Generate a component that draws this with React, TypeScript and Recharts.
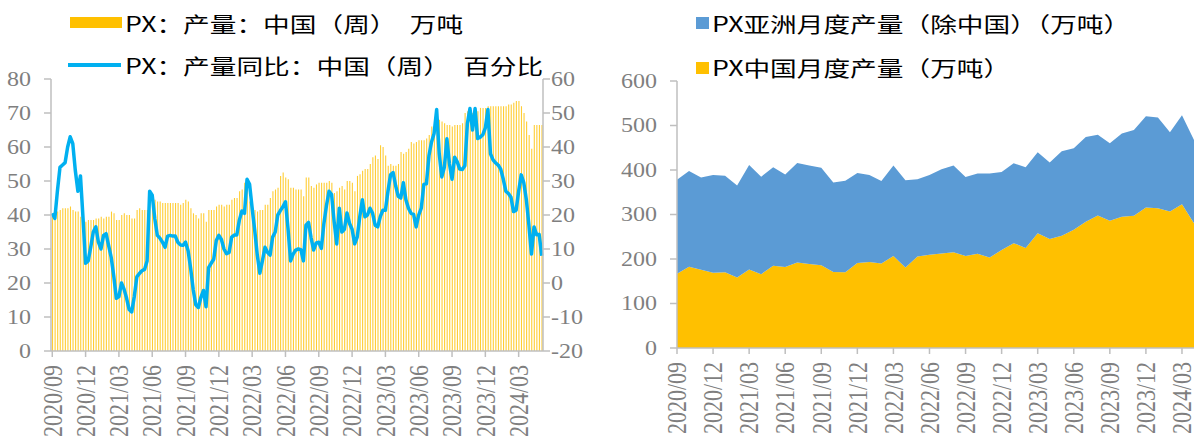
import { ComposedChart, Bar, Line, XAxis, YAxis, AreaChart, Area } from "recharts";

// weekly chart (left)
const WEEK_TICKS = [
  "2020/09", "2020/12", "2021/03", "2021/06", "2021/09", "2021/12", "2022/03", "2022/06",
  "2022/09", "2022/12", "2023/03", "2023/06", "2023/09", "2023/12", "2024/03",
];

// PX：产量：中国（周） 万吨
const PX_OUTPUT_CN = [
  39.5, 40, 41, 41.5, 42, 42, 42, 42.5, 41.5, 41,
  41, 39.5, 39, 38, 38.5, 38.5, 38.5, 39, 39, 39.5,
  39, 39.5, 39.5, 41, 40.5, 38.5, 38.5, 40, 40.5, 40,
  40, 39, 39, 41.5, 42, 41.5, 41.5, 41.5, 45, 45.5,
  44.5, 44, 44, 43.5, 43.5, 43.5, 43.5, 43.5, 43.5, 43.5,
  43, 43.5, 44.5, 44, 42, 40.5, 40, 39, 40.5, 40.5,
  38, 41.5, 41.5, 41.5, 42.5, 43, 43, 42.5, 43, 43,
  44.5, 45, 45, 47, 47.5, 49.5, 50, 44, 43, 41.5,
  41, 41.5, 41.5, 43, 43, 45, 47, 47.5, 48, 51.5,
  52.5, 51, 50.5, 48, 48, 47.5, 47.5, 47.5, 45.5, 51,
  51, 48.5, 48, 49, 49.5, 49.5, 49.5, 49.5, 50, 49.5,
  46.5, 47, 48, 48.5, 47.5, 50, 50, 49.5, 47, 51.5,
  52, 53, 53.5, 53.5, 55, 57, 57.5, 56.5, 60.5, 60,
  57.5, 54.5, 55, 54.5, 54.5, 55, 58.5, 58, 58.5, 59.5,
  61.5, 61, 61.5, 62, 62, 62, 62.5, 63.5, 66, 66,
  67.5, 68, 67.5, 67, 66.5, 66.5, 66, 66.5, 66.5, 66.5,
  67, 70, 70.5, 70.5, 70, 70.5, 70.5, 71.5, 71.5, 71.5,
  72, 72, 72, 72, 72, 72, 72, 72, 72.5, 72.5,
  73, 73.5, 73.5, 72, 70, 67.5, 63.5, 59.5, 66.5, 66.5,
  66.5, 66.5,
];

// PX：产量同比：中国（周） 百分比
const PX_YOY_CN = [
  20.5, 19, 27, 34, 34.7, 35.4, 40, 43, 41, 33,
  27, 31.5, 19, 5.8, 6.5, 10.5, 15, 16.5, 12, 10,
  14, 14.5, 11, 7.5, 2, -4.5, -4, 0, -1.8, -4.5,
  -7.8, -8.5, -4, 1.8, 2.8, 3.6, 4, 6.5, 27, 25.8,
  19, 14, 13.2, 12, 10.5, 13.8, 14, 13.8, 13.8, 12,
  11.2, 11.1, 12, 9.5, 4.3, -2, -6.4, -7.2, -4.2, -2.2,
  -7, 4.5, 5.8, 7, 12.5, 14, 12.8, 10, 8.6, 9,
  13.5, 14.1, 14.1, 18.5, 21.2, 20.5, 30.5, 29, 22, 15.5,
  8.2, 2.9, 6.5, 10.5, 9, 8.2, 13.5, 15, 20, 21.3,
  22.4, 23.9, 16, 6.5, 8.5, 9.7, 10, 9.8, 6.5, 17,
  17.8, 13.3, 9.7, 11.8, 12, 10.2, 17.5, 22.8, 27, 26,
  18, 11.5, 22, 15, 15.8, 20.6, 17.5, 15.8, 11.5, 13.5,
  19.5, 24.5, 19.5, 20, 22, 20.5, 17, 16.5, 19.5, 21.4,
  21.4, 27, 31.8, 32.5, 28.6, 25.5, 25, 29.5, 24.5, 22,
  20.5, 20.2, 16.5, 20, 22, 29, 29.2, 37.5, 41.5, 44,
  51, 38, 31.2, 34, 42.4, 35, 30.5, 37, 35.7, 33.5,
  33.4, 34.5, 47, 51.3, 45, 51.3, 42.5, 42.9, 43.6, 45.6,
  51, 38, 36.2, 35.3, 34.7, 33.5, 30.5, 27, 26.3, 25.2,
  21, 21.4, 27, 31.8, 29.5, 24.5, 17, 8.5, 16.5, 14.2,
  14.3, 8,
];

// monthly chart (right)
const MONTHS = [
  "2020/09", "2020/10", "2020/11", "2020/12", "2021/01", "2021/02", "2021/03", "2021/04",
  "2021/05", "2021/06", "2021/07", "2021/08", "2021/09", "2021/10", "2021/11", "2021/12",
  "2022/01", "2022/02", "2022/03", "2022/04", "2022/05", "2022/06", "2022/07", "2022/08",
  "2022/09", "2022/10", "2022/11", "2022/12", "2023/01", "2023/02", "2023/03", "2023/04",
  "2023/05", "2023/06", "2023/07", "2023/08", "2023/09", "2023/10", "2023/11", "2023/12",
  "2024/01", "2024/02", "2024/03", "2024/04",
];

// PX中国月度产量（万吨）
const PX_CHINA_MONTHLY = [
  167, 182.5, 176, 169, 170.5, 158.6, 176.5, 166, 185, 182, 192,
  188.5, 186, 171, 170, 191, 193, 190, 207, 181, 205.7, 209.4,
  212.4, 215.4, 207, 211.7, 203.4, 220, 235.6, 225, 258, 245, 252,
  265.5, 283.5, 297.7, 285.7, 294.7, 297, 315.6, 314, 306.7, 323, 280.5,
];

// PX亚洲月度产量（除中国）（万吨）
const PX_ASIA_EX_CHINA = [
  211, 215.5, 207, 220, 216.5, 206.4, 234.5, 219, 221, 208, 224,
  221.5, 219, 201, 206, 202, 196, 185.5, 203, 196, 173.3, 179.6,
  189.2, 194.6, 177, 180.3, 188.6, 175.6, 179.4, 181, 182, 172, 190,
  183.5, 190.5, 181.3, 174.3, 187.3, 193, 205, 204, 178, 200, 187,
];

const weeklyData = PX_OUTPUT_CN.map((v, i) => ({ week: i, output: v, yoy: PX_YOY_CN[i] }));
const monthlyData = MONTHS.map((m, i) => ({
  month: m,
  china: PX_CHINA_MONTHLY[i],
  asia: PX_ASIA_EX_CHINA[i],
}));

const AXIS = "#bfbfbf";
const TICK_COLOR = "#7f7f7f";
const SERIF = "'Liberation Serif', 'Times New Roman', serif";
const CJK = "'Noto Sans CJK SC', 'Noto Sans', sans-serif";

function YTick(props: any) {
  const { x, y, payload, textAnchor } = props;
  return (
    <text
      transform={`translate(${x},${y}) scale(1.2,1)`}
      textAnchor={textAnchor}
      dominantBaseline="central"
      fontSize={20}
      fontFamily={SERIF}
      fill={TICK_COLOR}
    >
      {payload.value}
    </text>
  );
}

function DateTick(props: any) {
  const { x, y, label } = props;
  return (
    <text
      transform={`translate(${x},${y}) rotate(-90) scale(1,1.2)`}
      textAnchor="end"
      dominantBaseline="central"
      fontSize={22}
      fontFamily={SERIF}
      fill={TICK_COLOR}
    >
      {label}
    </text>
  );
}

function LegendText({ left, top, text }: { left: number; top: number; text: string }) {
  return (
    <div
      style={{
        position: "absolute",
        left,
        top: top - 15,
        height: 30,
        lineHeight: "30px",
        fontSize: 21,
        fontFamily: CJK,
        color: "#000",
        whiteSpace: "nowrap",
        transform: "scaleX(1.27)",
        transformOrigin: "left center",
      }}
    >
      {text}
    </div>
  );
}

function Box({ left, top, width, height, color }: any) {
  return <div style={{ position: "absolute", left, top, width, height, background: color }} />;
}

export default function App() {
  return (
    <div
      style={{
        position: "absolute",
        left: 0,
        top: 0,
        width: 1197,
        height: 445,
        background: "#fff",
        overflow: "hidden",
      }}
    >
      <div style={{ position: "absolute", left: 0, top: 0 }}>
        <ComposedChart
          width={600}
          height={445}
          data={weeklyData}
          margin={{ top: 79, right: 0, bottom: 0, left: 0 }}
        >
          <XAxis
            dataKey="week"
            type="category"
            interval={12}
            height={94}
            tickSize={6}
            tickMargin={8}
            axisLine={{ stroke: AXIS, strokeWidth: 1.5 }}
            tickLine={{ stroke: AXIS, strokeWidth: 1.5 }}
            tick={(p: any) => (
              <DateTick {...p} label={WEEK_TICKS[Math.round(p.payload.value / 13)]} />
            )}
          />
          <YAxis
            yAxisId="left"
            orientation="left"
            width={51}
            domain={[0, 80]}
            ticks={[0, 10, 20, 30, 40, 50, 60, 70, 80]}
            tickSize={7}
            tickMargin={13}
            axisLine={{ stroke: AXIS, strokeWidth: 1.5 }}
            tickLine={{ stroke: AXIS, strokeWidth: 1.5 }}
            tick={<YTick />}
          />
          <YAxis
            yAxisId="right"
            orientation="right"
            width={57}
            domain={[-20, 60]}
            ticks={[-20, -10, 0, 10, 20, 30, 40, 50, 60]}
            tickSize={7}
            tickMargin={1}
            axisLine={{ stroke: AXIS, strokeWidth: 1.5 }}
            tickLine={{ stroke: AXIS, strokeWidth: 1.5 }}
            tick={<YTick />}
          />
          <Bar
            yAxisId="left"
            dataKey="output"
            fill="#FFC000"
            fillOpacity={0.8}
            barSize={1.1}
            isAnimationActive={false}
          />
          <Line
            yAxisId="right"
            dataKey="yoy"
            type="linear"
            stroke="#00B0F0"
            strokeWidth={3.5}
            strokeLinejoin="round"
            dot={false}
            activeDot={false}
            isAnimationActive={false}
          />
        </ComposedChart>
      </div>

      <div style={{ position: "absolute", left: 600, top: 0 }}>
        <AreaChart
          width={597}
          height={445}
          data={monthlyData}
          margin={{ top: 81, right: 3, bottom: 0, left: 0 }}
        >
          <XAxis
            dataKey="month"
            interval={2}
            height={97}
            tickSize={6}
            tickMargin={8}
            axisLine={{ stroke: AXIS, strokeWidth: 1.5 }}
            tickLine={{ stroke: AXIS, strokeWidth: 1.5 }}
            tick={(p: any) => <DateTick {...p} label={p.payload.value} />}
          />
          <YAxis
            width={77}
            domain={[0, 600]}
            ticks={[0, 100, 200, 300, 400, 500, 600]}
            tickSize={7}
            tickMargin={13}
            axisLine={{ stroke: AXIS, strokeWidth: 1.5 }}
            tickLine={{ stroke: AXIS, strokeWidth: 1.5 }}
            tick={<YTick />}
          />
          <Area
            dataKey="china"
            stackId="px"
            type="linear"
            stroke="none"
            fill="#FFC000"
            fillOpacity={1}
            dot={false}
            activeDot={false}
            isAnimationActive={false}
          />
          <Area
            dataKey="asia"
            stackId="px"
            type="linear"
            stroke="none"
            fill="#5B9BD5"
            fillOpacity={1}
            dot={false}
            activeDot={false}
            isAnimationActive={false}
          />
        </AreaChart>
      </div>

      {/* left legend */}
      <Box left={70} top={17} width={52} height={11} color="#FFC000" />
      <LegendText left={125} top={23} text="PX：产量：中国（周）　万吨" />
      <Box left={68} top={62.5} width={53} height={4} color="#00B0F0" />
      <LegendText left={125} top={65} text="PX：产量同比：中国（周）　百分比" />

      {/* right legend */}
      <Box left={696} top={17} width={12.5} height={12} color="#5B9BD5" />
      <LegendText left={712} top={23} text="PX亚洲月度产量（除中国）（万吨）" />
      <Box left={696} top={61.5} width={12.5} height={12} color="#FFC000" />
      <LegendText left={712} top={67} text="PX中国月度产量（万吨）" />
    </div>
  );
}
